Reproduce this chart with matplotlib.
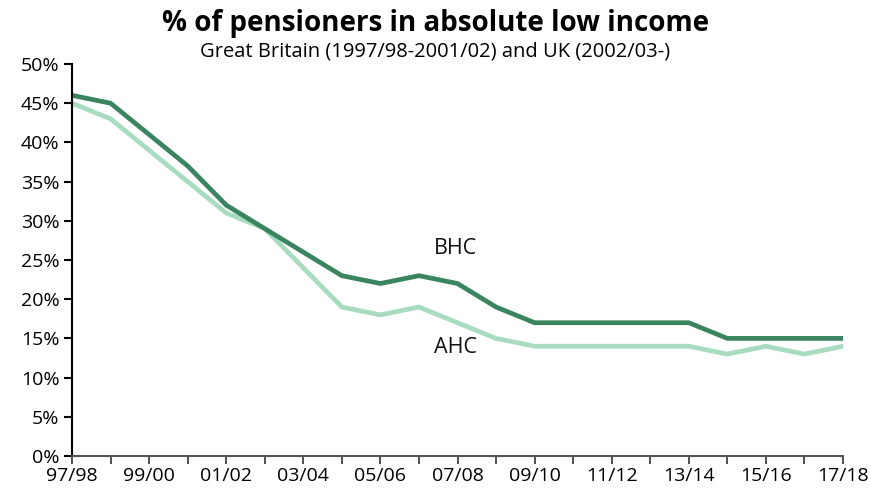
import matplotlib
matplotlib.use("Agg")
import matplotlib.pyplot as plt
from matplotlib.ticker import FuncFormatter, MultipleLocator

years = ["97/98", "98/99", "99/00", "00/01", "01/02", "02/03", "03/04", "04/05",
         "05/06", "06/07", "07/08", "08/09", "09/10", "10/11", "11/12", "12/13",
         "13/14", "14/15", "15/16", "16/17", "17/18"]
bhc = [46, 45, 41, 37, 32, 29, 26, 23, 22, 23, 22, 19, 17, 17, 17, 17, 17, 15, 15, 15, 15]
ahc = [45, 43, 39, 35, 31, 29, 24, 19, 18, 19, 17, 15, 14, 14, 14, 14, 14, 13, 14, 13, 14]

plt.rcParams['font.family'] = ['Open Sans', 'DejaVu Sans']

fig = plt.figure(figsize=(8.71, 4.96), dpi=100)
ax = fig.add_axes([72/871, 40/496, (843-72)/871, (456-64)/496])

x = list(range(len(years)))
ax.plot(x, ahc, color="#a8dcc0", lw=3.4, solid_joinstyle="miter")
ax.plot(x, bhc, color="#3a8560", lw=3.4, solid_joinstyle="miter")

ax.set_xlim(0, len(years) - 1)
ax.set_ylim(0, 50)
ax.yaxis.set_major_locator(MultipleLocator(5))
ax.yaxis.set_major_formatter(FuncFormatter(lambda v, p: f"{int(v)}%"))
ax.set_xticks(x)
ax.set_xticklabels([y if i % 2 == 0 else "" for i, y in enumerate(years)])

for s in ["top", "right"]:
    ax.spines[s].set_visible(False)
ax.spines["left"].set_color("black")
ax.spines["left"].set_linewidth(1.5)
ax.spines["bottom"].set_color("#555555")
ax.spines["bottom"].set_linewidth(1.5)
ax.tick_params(axis="y", direction="out", length=6, width=1.5, labelsize=14, pad=3)
ax.tick_params(axis="x", direction="out", length=6, width=1.2, color="#333333", labelsize=14, pad=2)

ax.text(9.95, 26.5, "BHC", fontsize=15.5, ha="center", va="center", color="#111111")
ax.text(9.95, 13.9, "AHC", fontsize=15.5, ha="center", va="center", color="#111111")

fig.text(0.5, 0.952, "% of pensioners in absolute low income", ha="center", va="center",
         fontsize=20, fontweight="bold")
fig.text(0.5, 0.897, "Great Britain (1997/98-2001/02) and UK (2002/03-)", ha="center",
         va="center", fontsize=14.5)

fig.savefig("out.png", dpi=100)
